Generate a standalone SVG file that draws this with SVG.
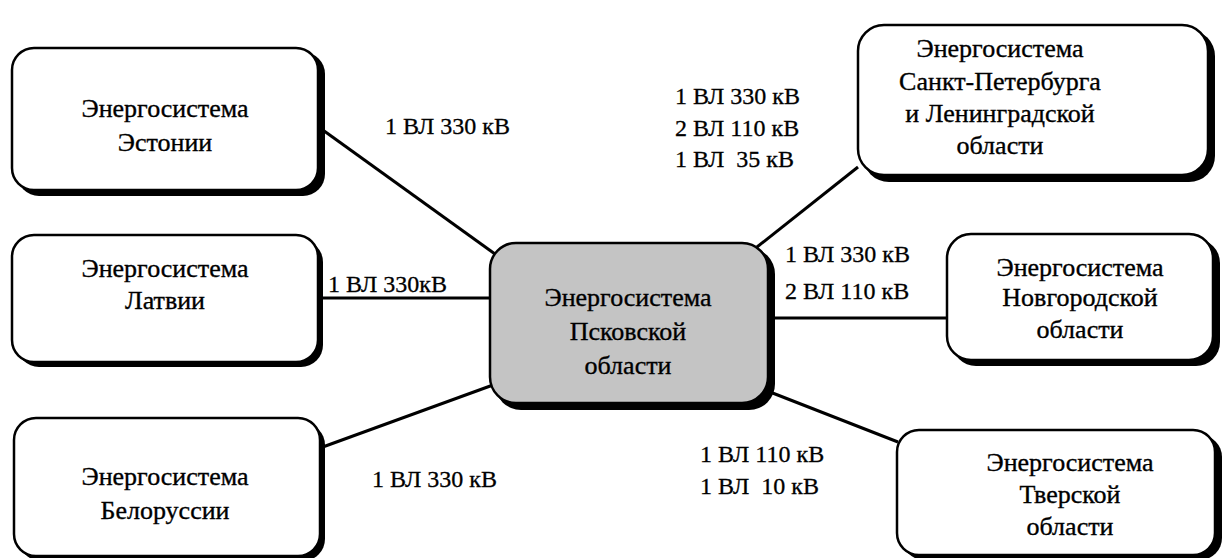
<svg xmlns="http://www.w3.org/2000/svg" width="1223" height="558" viewBox="0 0 1223 558">
<style>
.box{fill:#fff;stroke:#000;stroke-width:2.5}
.ctr{fill:#c4c4c4;stroke:#000;stroke-width:2.5}
.sh{fill:#000}
.t{font-family:"Liberation Serif","DejaVu Serif",serif;font-size:26px;fill:#000;text-anchor:middle;stroke:#000;stroke-width:0.35}
.l{font-family:"Liberation Serif","DejaVu Serif",serif;font-size:24px;fill:#000;stroke:#000;stroke-width:0.3}
.c{stroke:#000;stroke-width:3;fill:none}
</style>
<rect width="1223" height="558" fill="#fff"/>
<g id="connectors">
<line class="c" x1="320" y1="128" x2="495" y2="254"/>
<line class="c" x1="318" y1="298" x2="490" y2="298"/>
<line class="c" x1="320" y1="448" x2="493" y2="385"/>
<line class="c" x1="858" y1="167" x2="757" y2="247"/>
<line class="c" x1="770" y1="318" x2="947" y2="318"/>
<line class="c" x1="770" y1="392" x2="898" y2="442"/>
</g>
<g id="labels">
<text class="l" x="385" y="134">1 ВЛ 330 кВ</text>
<text class="l" x="328" y="292">1 ВЛ 330кВ</text>
<text class="l" x="372" y="487">1 ВЛ 330 кВ</text>
<text class="l" x="675" y="104">1 ВЛ 330 кВ</text>
<text class="l" x="675" y="136">2 ВЛ 110 кВ</text>
<text class="l" x="675" y="167" xml:space="preserve">1 ВЛ  35 кВ</text>
<text class="l" x="785" y="262">1 ВЛ 330 кВ</text>
<text class="l" x="785" y="299">2 ВЛ 110 кВ</text>
<text class="l" x="700" y="462">1 ВЛ 110 кВ</text>
<text class="l" x="700" y="494" xml:space="preserve">1 ВЛ  10 кВ</text>
</g>
<g id="estonia">
<rect class="sh" x="17" y="52" width="308" height="144" rx="22"/>
<rect class="box" x="12" y="48" width="306" height="142" rx="22"/>
<text class="t" x="165" y="117">Энергосистема</text>
<text class="t" x="165" y="151">Эстонии</text>
</g>
<g id="latvia">
<rect class="sh" x="17" y="240" width="306" height="127" rx="22"/>
<rect class="box" x="12" y="235" width="306" height="127" rx="22"/>
<text class="t" x="165" y="277">Энергосистема</text>
<text class="t" x="165" y="309">Латвии</text>
</g>
<g id="belarus">
<rect class="sh" x="19" y="423" width="306" height="138" rx="22"/>
<rect class="box" x="14" y="418" width="306" height="138" rx="22"/>
<text class="t" x="165" y="485">Энергосистема</text>
<text class="t" x="165" y="519">Белоруссии</text>
</g>
<g id="pskov">
<rect class="sh" x="495" y="248" width="280" height="162" rx="26"/>
<rect class="ctr" x="490" y="243" width="278" height="160" rx="26"/>
<text class="t" x="628" y="306">Энергосистема</text>
<text class="t" x="628" y="340">Псковской</text>
<text class="t" x="628" y="374">области</text>
</g>
<g id="spb">
<rect class="sh" x="863" y="30" width="352" height="152" rx="26"/>
<rect class="box" x="858" y="25" width="350" height="150" rx="26"/>
<text class="t" x="1000" y="57">Энергосистема</text>
<text class="t" x="1000" y="90">Санкт-Петербурга</text>
<text class="t" x="1000" y="122">и Ленинградской</text>
<text class="t" x="1000" y="154">области</text>
</g>
<g id="novgorod">
<rect class="sh" x="952" y="239" width="268" height="127" rx="24"/>
<rect class="box" x="947" y="234" width="266" height="126" rx="24"/>
<text class="t" x="1080" y="276">Энергосистема</text>
<text class="t" x="1080" y="306">Новгородской</text>
<text class="t" x="1080" y="338">области</text>
</g>
<g id="tver">
<rect class="sh" x="902" y="435" width="320" height="125" rx="22"/>
<rect class="box" x="897" y="430" width="318" height="125" rx="22"/>
<text class="t" x="1070" y="471">Энергосистема</text>
<text class="t" x="1070" y="503">Тверской</text>
<text class="t" x="1070" y="535">области</text>
</g>
</svg>
